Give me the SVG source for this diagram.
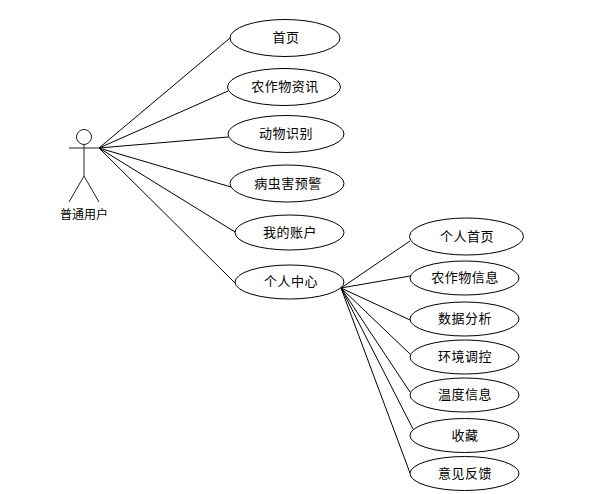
<svg xmlns="http://www.w3.org/2000/svg" width="607" height="494" viewBox="0 0 607 494">
<style>
.n{fill:#fff;stroke:#000;stroke-width:1}
.c,.a{fill:none;stroke:#000;stroke-width:1}
.a{stroke:#222}
text{font-family:"Noto Sans CJK SC","Liberation Sans",sans-serif;font-size:13px;fill:#000;text-anchor:middle;letter-spacing:.5px}
text.l{font-size:12px;letter-spacing:0}
</style>
<rect width="607" height="494" fill="#fff"/>
<g id="connectors">
<path class="c" d="M99 148L230 38M99 148L228 91M99 148L228 137M99 148L231 187M99 148L235 232M99 148L235 283"/>
<path class="c" d="M341 288L410 241M341 288L410 276M341 288L410 320M341 288L410 354M341 288L410 392M341 288L413 429M341 288L410 473"/>
</g>
<g id="actor">
<circle class="a" cx="84" cy="137" r="7.500"/>
<path class="a" d="M84 144.500V176M69 148H99M84 176L69 202M84 176L99 202"/>
<text class="l" x="84" y="219">普通用户</text>
</g>
<g id="n1"><ellipse class="n" cx="285" cy="38" rx="55" ry="18.500"/><text x="286" y="41.500">首页</text></g>
<g id="n2"><ellipse class="n" cx="284" cy="87" rx="56.500" ry="18.500"/><text x="285" y="90.500">农作物资讯</text></g>
<g id="n3"><ellipse class="n" cx="286" cy="134" rx="58" ry="18.500"/><text x="286" y="137.500">动物识别</text></g>
<g id="n4"><ellipse class="n" cx="287" cy="183.500" rx="57" ry="18.500"/><text x="288" y="187.500">病虫害预警</text></g>
<g id="n5"><ellipse class="n" cx="289.500" cy="232.500" rx="54.500" ry="17.500"/><text x="290" y="236.500">我的账户</text></g>
<g id="n6"><ellipse class="n" cx="289.500" cy="282" rx="54.500" ry="17"/><text x="291" y="285.500">个人中心</text></g>
<g id="n7"><ellipse class="n" cx="466.500" cy="236.500" rx="57" ry="18.500"/><text x="467" y="240.500">个人首页</text></g>
<g id="n8"><ellipse class="n" cx="464.500" cy="278" rx="54.500" ry="17"/><text x="465" y="281.500">农作物信息</text></g>
<g id="n9"><ellipse class="n" cx="464.500" cy="319" rx="54.500" ry="17"/><text x="465" y="322.500">数据分析</text></g>
<g id="n10"><ellipse class="n" cx="464.500" cy="357" rx="54.500" ry="17"/><text x="465" y="360.500">环境调控</text></g>
<g id="n11"><ellipse class="n" cx="464.500" cy="395" rx="54.500" ry="17"/><text x="465" y="398.500">温度信息</text></g>
<g id="n12"><ellipse class="n" cx="464.500" cy="435.500" rx="54.500" ry="17"/><text x="465" y="439.500">收藏</text></g>
<g id="n13"><ellipse class="n" cx="464.500" cy="473.500" rx="54.500" ry="17"/><text x="465" y="477.500">意见反馈</text></g>
</svg>
